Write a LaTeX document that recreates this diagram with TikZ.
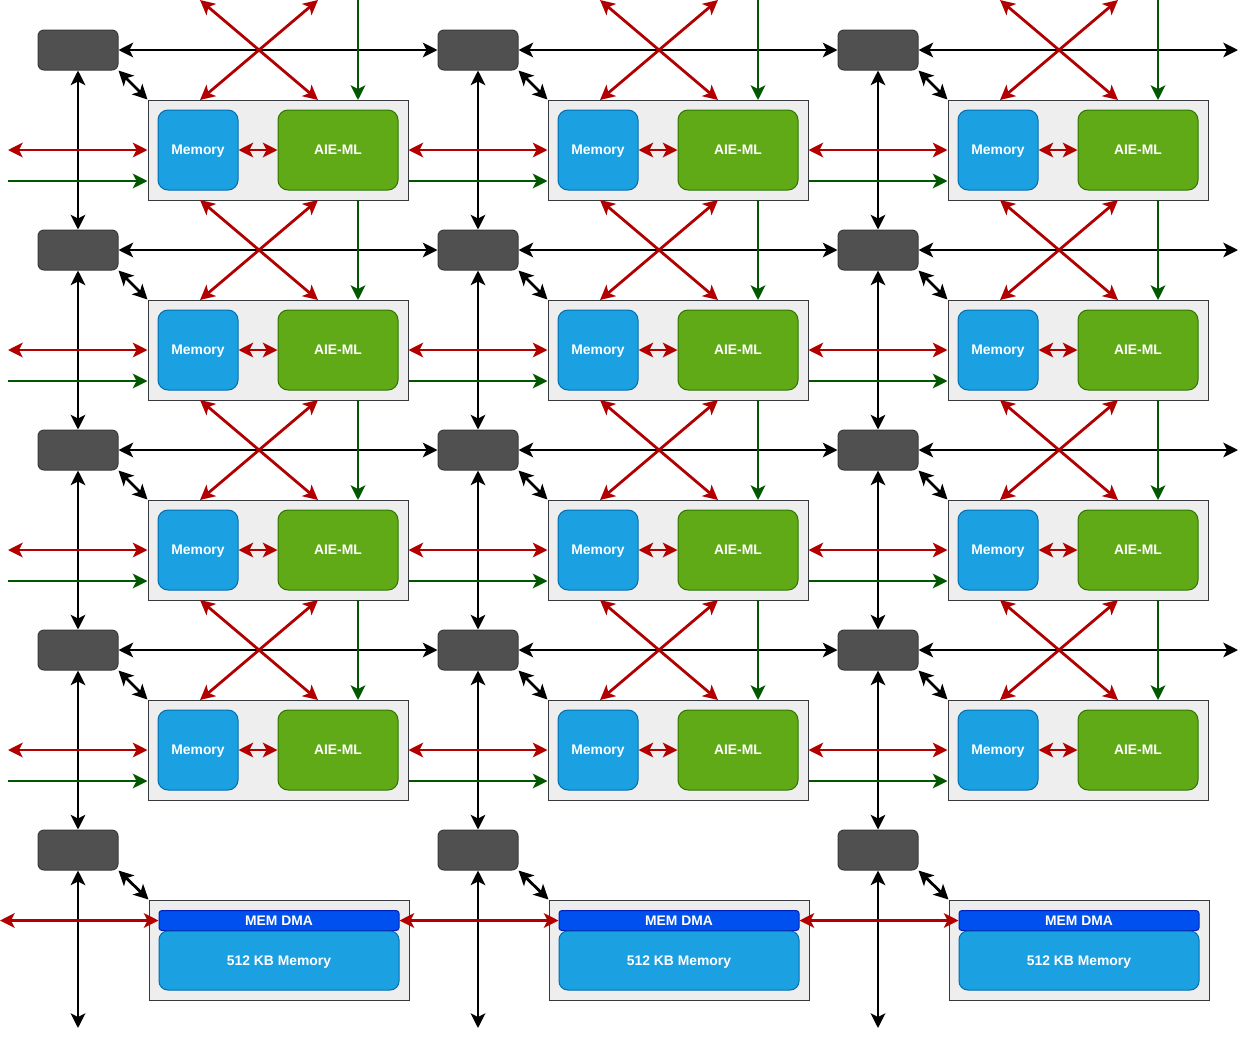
\documentclass[tikz,border=0pt]{standalone}
\usepackage{fontspec}
\setmainfont{Liberation Sans}
\usetikzlibrary{arrows.meta}
\definecolor{swfill}{HTML}{505050}
\definecolor{swline}{HTML}{3A3A3A}
\definecolor{tilefill}{HTML}{EEEEEE}
\definecolor{tileline}{HTML}{36393D}
\definecolor{memfill}{HTML}{1BA1E2}
\definecolor{memline}{HTML}{006EAF}
\definecolor{aiefill}{HTML}{60A917}
\definecolor{aieline}{HTML}{2D7600}
\definecolor{dmafill}{HTML}{0050EF}
\definecolor{dmaline}{HTML}{001DBC}
\definecolor{redc}{HTML}{B20000}
\definecolor{greenc}{HTML}{005700}
\begin{document}
\begin{tikzpicture}[x=0.75pt,y=-0.75pt,
  >={Stealth[length=11pt,width=11pt,inset=2.8pt]},
  switch/.style={draw=swline,fill=swfill,line width=0.75pt,rounded corners=4.5pt,minimum width=60pt,minimum height=30pt,inner sep=0pt},
  tile/.style={draw=tileline,fill=tilefill,line width=0.75pt,minimum width=195pt,minimum height=75pt,inner sep=0pt},
  lbl/.style={text=white,font=\bfseries\fontsize{10.4}{12}\selectfont,inner sep=0pt,line width=0.75pt,text height=7.45pt,text depth=0pt},
  memb/.style={lbl,draw=memline,fill=memfill,rounded corners=7.5pt,minimum width=60pt,minimum height=60pt},
  aieb/.style={lbl,draw=aieline,fill=aiefill,rounded corners=7.5pt,minimum width=90pt,minimum height=60pt},
  dmab/.style={lbl,draw=dmaline,fill=dmafill,rounded corners=2.2pt,minimum width=180pt,minimum height=15pt},
  bigm/.style={lbl,draw=memline,fill=memfill,rounded corners=6.6pt,minimum width=180pt,minimum height=44.25pt},
  blk/.style={draw=black,line width=2.1pt},
  redl/.style={draw=redc,line width=2.1pt},
  grnl/.style={draw=greenc,line width=2.1pt}]
\useasboundingbox (0,0) rectangle (1240,1040);
\fill[white] (0,0) rectangle (1240,1040);
% nodes
\foreach \c in {0,1,2}{
  \foreach \r in {0,1,2,3}{
    \node[switch] (sw-\c-\r) at ({78+400*\c},{50+200*\r}) {};
    \node[tile] (tile-\c-\r) at ({278+400*\c},{150+200*\r}) {};
    \node[memb] (mem-\c-\r) at ({198+400*\c},{150+200*\r}) {Memory};
    \node[aieb] (aie-\c-\r) at ({338+400*\c},{150+200*\r}) {AIE-ML};
    \coordinate (xa-\c-\r) at ({200+400*\c},{200*\r});
    \coordinate (xb-\c-\r) at ({318+400*\c},{200*\r});
    \coordinate (xc-\c-\r) at ({200+400*\c},{100+200*\r});
    \coordinate (xd-\c-\r) at ({318+400*\c},{100+200*\r});
    \coordinate (ga-\c-\r) at ({358+400*\c},{200*\r});
    \coordinate (gb-\c-\r) at ({358+400*\c},{100+200*\r});
    \coordinate (ge-\c-\r) at ([yshift=-23.25pt]tile-\c-\r.east);
    \coordinate (gw-\c-\r) at ([yshift=-23.25pt]tile-\c-\r.west);
  }
  \node[switch] (sw-\c-4) at ({78+400*\c},850) {};
  \node[tile] (mt-\c) at ({279+400*\c},950) {};
  \node[dmab] (dma-\c) at ({279+400*\c},920.5) {MEM DMA};
  \node[bigm] (bm-\c) at ({279+400*\c},960.5) {512 KB Memory};
  \coordinate (vb-\c) at ({78+400*\c},1028);
}
\foreach \r in {0,1,2,3}{
  \coordinate (he-\r) at (1238,{50+200*\r});
  \coordinate (rl-\r) at (8,{150+200*\r});
  \coordinate (gl-\r) at (8,{181+200*\r});
}
\coordinate (rb) at (0,920.5);
% black connectors
\foreach \r in {0,1,2,3}{
  \draw[blk,<->] (sw-0-\r) -- (sw-1-\r);
  \draw[blk,<->] (sw-1-\r) -- (sw-2-\r);
  \draw[blk,<->] (sw-2-\r) -- (he-\r);
}
\foreach \c in {0,1,2}{
  \foreach \r/\rn in {0/1,1/2,2/3,3/4}{
    \draw[blk,<->] (sw-\c-\r) -- (sw-\c-\rn);
  }
  \draw[blk,<->] (sw-\c-4) -- (vb-\c);
  \foreach \r in {0,1,2,3}{
    \draw[blk,<->] (sw-\c-\r.south east) -- (tile-\c-\r.north west);
  }
  \draw[blk,<->] (sw-\c-4.south east) -- (mt-\c.north west);
}
% red connectors
\foreach \c in {0,1,2}{
  \foreach \r in {0,1,2,3}{
    \draw[redl,<->] (xa-\c-\r) -- (xd-\c-\r);
    \draw[redl,<->] (xb-\c-\r) -- (xc-\c-\r);
    \draw[redl,<->] (mem-\c-\r) -- (aie-\c-\r);
  }
}
\foreach \r in {0,1,2,3}{
  \draw[redl,<->] (rl-\r) -- (tile-0-\r.west);
  \draw[redl,<->] (tile-0-\r.east) -- (tile-1-\r.west);
  \draw[redl,<->] (tile-1-\r.east) -- (tile-2-\r.west);
}
\draw[redl,<->] (rb) -- (dma-0.west);
\draw[redl,<->] (dma-0.east) -- (dma-1.west);
\draw[redl,<->] (dma-1.east) -- (dma-2.west);
% green connectors
\foreach \c in {0,1,2}{
  \foreach \r in {0,1,2,3}{
    \draw[grnl,->] (ga-\c-\r) -- (gb-\c-\r);
  }
}
\foreach \r in {0,1,2,3}{
  \draw[grnl,->] (gl-\r) -- (gw-0-\r);
  \draw[grnl,->] (ge-0-\r) -- (gw-1-\r);
  \draw[grnl,->] (ge-1-\r) -- (gw-2-\r);
}
\end{tikzpicture}
\end{document}
